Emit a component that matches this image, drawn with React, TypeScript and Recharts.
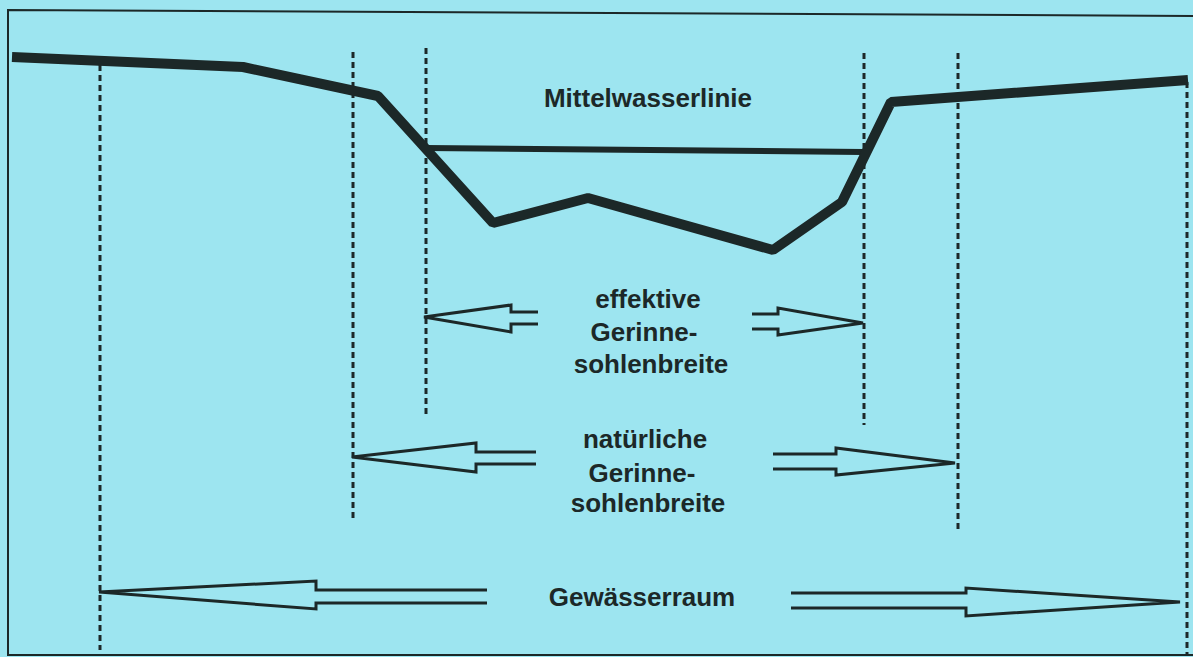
import React from 'react';
import { LineChart, Line, XAxis, YAxis, ReferenceLine, ReferenceDot } from 'recharts';

// chart units: x = distance across the section, y = depth from the top of the figure
const groundX = [12, 243, 378, 493, 588, 773, 842, 891, 1188];
const groundY = [57, 67, 96, 223, 198, 250, 202, 102, 80];

const waterX = [426, 863];
const waterY = [148, 152];

const frameX = [1193, 8, 8, 1193];
const frameY = [16, 10, 655, 655];

// vertical dashed boundaries
const boundX = [100, 353, 426, 864, 958, 1187];
const boundTop = [65, 52, 48, 53, 53, 82];
const boundBottom = [650, 520, 418, 425, 532, 655];

// double-line arrows: shaft end, head base, head corner, tip, head corner, head base, shaft end
const effLeftX = [538, 511, 511, 424, 511, 511, 538];
const effLeftY = [312, 312, 305, 317, 332, 324, 324];
const effRightX = [752, 778, 778, 863, 778, 778, 752];
const effRightY = [314, 314, 308, 323, 335, 329, 329];
const natLeftX = [536, 476, 476, 352, 476, 476, 536];
const natLeftY = [452, 452, 443, 457, 472, 464, 464];
const natRightX = [773, 836, 836, 955, 836, 836, 773];
const natRightY = [454, 454, 448, 463, 475, 469, 469];
const gewLeftX = [487, 316, 316, 99, 316, 316, 487];
const gewLeftY = [590, 590, 581, 592, 609, 603, 603];
const gewRightX = [791, 966, 966, 1180, 966, 966, 791];
const gewRightY = [593, 593, 588, 602, 616, 608, 608];

const labelText = [
  'Mittelwasserlinie',
  'effektive',
  'Gerinne-',
  'sohlenbreite',
  'natürliche',
  'Gerinne-',
  'sohlenbreite',
  'Gewässerraum',
];
const labelX = [648, 648, 644, 651, 645, 642, 648, 642];
const labelY = [98, 299, 332, 364, 439, 473, 503, 597];

const ink = '#1c2828';

const toPoints = (xs: number[], ys: number[]) => xs.map((x, i) => ({ x, y: ys[i] }));

const arrows = [
  toPoints(effLeftX, effLeftY),
  toPoints(effRightX, effRightY),
  toPoints(natLeftX, natLeftY),
  toPoints(natRightX, natRightY),
  toPoints(gewLeftX, gewLeftY),
  toPoints(gewRightX, gewRightY),
];

const App: React.FC = () => {
  return (
    <div style={{ position: 'absolute', left: 0, top: 0, width: 1193, height: 657, background: '#9de5f0' }}>
      <LineChart width={1193} height={657} margin={{ top: 0, right: 0, bottom: 0, left: 0 }}>
        <XAxis type="number" dataKey="x" domain={[0, 1193]} allowDataOverflow hide />
        <YAxis type="number" dataKey="y" domain={[0, 657]} reversed allowDataOverflow hide />

        <Line
          data={toPoints(frameX, frameY)}
          dataKey="y"
          stroke={ink}
          strokeWidth={2}
          dot={false}
          activeDot={false}
          isAnimationActive={false}
        />

        {boundX.map((x, i) => (
          <ReferenceLine
            key={`b${i}`}
            segment={[{ x, y: boundTop[i] }, { x, y: boundBottom[i] }]}
            stroke={ink}
            strokeWidth={3}
            strokeDasharray="6 4"
            ifOverflow="visible"
          />
        ))}

        <Line
          data={toPoints(waterX, waterY)}
          dataKey="y"
          stroke={ink}
          strokeWidth={6}
          dot={false}
          activeDot={false}
          isAnimationActive={false}
        />
        <Line
          data={toPoints(groundX, groundY)}
          dataKey="y"
          stroke={ink}
          strokeWidth={10}
          strokeLinejoin="bevel"
          dot={false}
          activeDot={false}
          isAnimationActive={false}
        />

        {arrows.map((pts, i) => (
          <Line
            key={`a${i}`}
            data={pts}
            dataKey="y"
            stroke={ink}
            strokeWidth={3}
            strokeLinejoin="miter"
            dot={false}
            activeDot={false}
            isAnimationActive={false}
          />
        ))}

        {labelText.map((t, i) => (
          <ReferenceDot
            key={`l${i}`}
            x={labelX[i]}
            y={labelY[i]}
            r={0}
            fill="none"
            stroke="none"
            ifOverflow="visible"
            label={{
              value: t,
              position: 'center',
              fill: ink,
              fontSize: 26,
              fontWeight: 'bold',
              fontFamily: '"Liberation Sans", Arial, sans-serif',
            }}
          />
        ))}
      </LineChart>
    </div>
  );
};

export default App;
